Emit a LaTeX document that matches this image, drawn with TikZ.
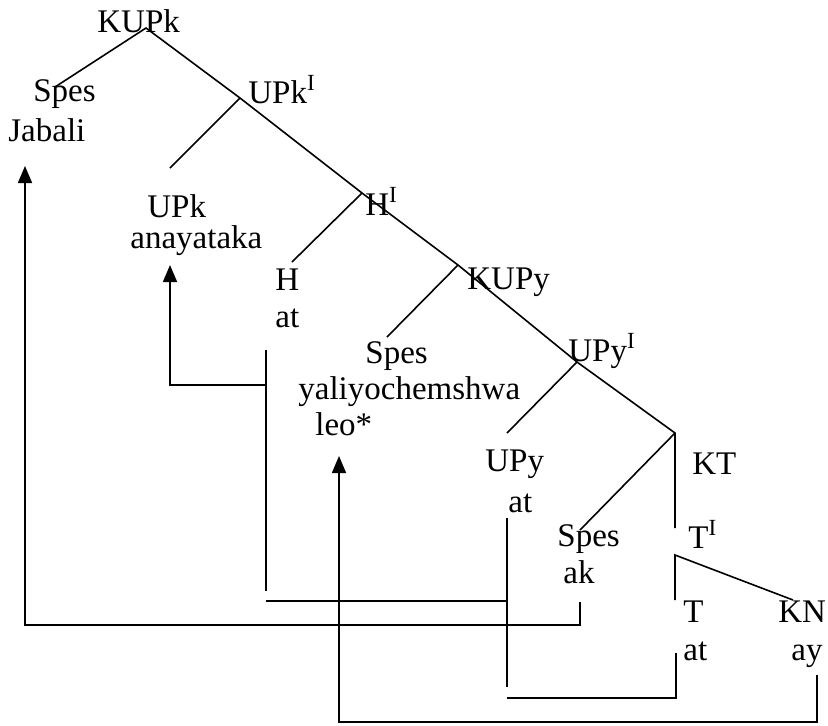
\documentclass[tikz,border=0pt]{standalone}
\usepackage{fontspec}
\setmainfont{Liberation Serif}
\usetikzlibrary{arrows.meta}

\tikzset{
  lbl/.style={anchor=base west, inner sep=0pt, font=\fontsize{16.5}{19}\selectfont},
  branch/.style={line width=0.8pt},
  movebar/.style={line width=0.8pt},
  moveup/.style={movebar, -{Triangle[length=8.5pt,width=7pt]}},
}

\begin{document}
\begin{tikzpicture}[x=0.5pt, y=-0.5pt]
            \useasboundingbox (0,0) rectangle (828,725);

            % tree junctions
            \coordinate (Root) at (146, 28);
            \coordinate (UPkbar) at (240, 98);
            \coordinate (Hbar) at (362, 193);
            \coordinate (KUPy) at (458, 265);
            \coordinate (UPybar) at (577, 362);
            \coordinate (KT) at (675, 433);
            \coordinate (KTlow) at (675, 528);
            \coordinate (Tbar) at (675, 555);
            \coordinate (Tlow) at (675, 600);

            % branch ends
            \coordinate (SpesJ) at (55, 87);
            \coordinate (UPkleaf) at (170, 168);
            \coordinate (Hleaf) at (292, 262);
            \coordinate (SpesY) at (387, 337);
            \coordinate (UPyleaf) at (507, 433);
            \coordinate (SpesA) at (580, 530);
            \coordinate (KNleaf) at (793, 600);

            % labels
            \node[lbl] (kupk) at (97, 32) {KUPk};
            \node[lbl] (spes1) at (33, 101) {Spes};
            \node[lbl] (jabali) at (8, 141) {Jabali};
            \node[lbl] (upkbar) at (248, 103) {UPk\textsuperscript{I}};
            \node[lbl] (upk) at (147, 217) {UPk};
            \node[lbl] (anayataka) at (130, 248) {anayataka};
            \node[lbl] (hbar) at (365, 215) {H\textsuperscript{I}};
            \node[lbl] (h) at (275, 290) {H};
            \node[lbl] (hat) at (275, 327) {at};
            \node[lbl] (kupy) at (467, 289) {KUPy};
            \node[lbl] (spes2) at (365, 363) {Spes};
            \node[lbl] (yaliyo) at (298, 399) {yaliyochemshwa};
            \node[lbl] (leo) at (315, 435) {leo*};
            \node[lbl] (upybar) at (568, 361) {UPy\textsuperscript{I}};
            \node[lbl] (upy) at (485, 471) {UPy};
            \node[lbl] (upyat) at (508, 512) {at};
            \node[lbl] (kt) at (692, 474) {KT};
            \node[lbl] (spes3) at (557, 546) {Spes};
            \node[lbl] (ak) at (563, 583) {ak};
            \node[lbl] (tbar) at (688, 548) {T\textsuperscript{I}};
            \node[lbl] (t) at (683, 622) {T};
            \node[lbl] (tat) at (683, 660) {at};
            \node[lbl] (kn) at (778, 622) {KN};
            \node[lbl] (ay) at (791, 660) {ay};

            % tree
            \draw[branch] (SpesJ) -- (Root) -- (UPkbar) -- (Hbar) -- (KUPy) -- (UPybar) -- (KT) -- (KTlow);
            \draw[branch] (UPkbar) -- (UPkleaf);
            \draw[branch] (Hbar) -- (Hleaf);
            \draw[branch] (KUPy) -- (SpesY);
            \draw[branch] (UPybar) -- (UPyleaf);
            \draw[branch] (KT) -- (SpesA);
            \draw[branch] (Tlow) -- (Tbar) -- (KNleaf);

            % movement lines
            \coordinate (AkTop) at (580, 602);
            \coordinate (AkLow) at (580, 625);
            \coordinate (JabCorner) at (25, 625);
            \coordinate (JabTip) at (25, 166);
            \draw[moveup] (AkTop) -- (AkLow) -- (JabCorner) -- (JabTip);

            \coordinate (HatTop) at (266, 350);
            \coordinate (HatLow) at (266, 591);
            \coordinate (HatMid) at (266, 385);
            \coordinate (AnaCorner) at (170, 385);
            \coordinate (AnaTip) at (170, 265);
            \draw[movebar] (HatTop) -- (HatLow);
            \draw[moveup] (HatMid) -- (AnaCorner) -- (AnaTip);

            \coordinate (HatJoin) at (266, 601);
            \coordinate (UPyatMid) at (507, 601);
            \coordinate (UPyatTop) at (507, 518);
            \coordinate (UPyatLow) at (507, 687);
            \coordinate (TatLeft) at (507, 698);
            \coordinate (TatCorner) at (676, 698);
            \coordinate (TatTop) at (676, 653);
            \draw[movebar] (HatJoin) -- (UPyatMid);
            \draw[movebar] (UPyatTop) -- (UPyatLow);
            \draw[movebar] (TatLeft) -- (TatCorner) -- (TatTop);

            \coordinate (AyTop) at (817, 675);
            \coordinate (AyCorner) at (817, 722);
            \coordinate (LeoCorner) at (339, 722);
            \coordinate (LeoTip) at (339, 456);
            \draw[moveup] (AyTop) -- (AyCorner) -- (LeoCorner) -- (LeoTip);
        \end{tikzpicture}
\end{document}
